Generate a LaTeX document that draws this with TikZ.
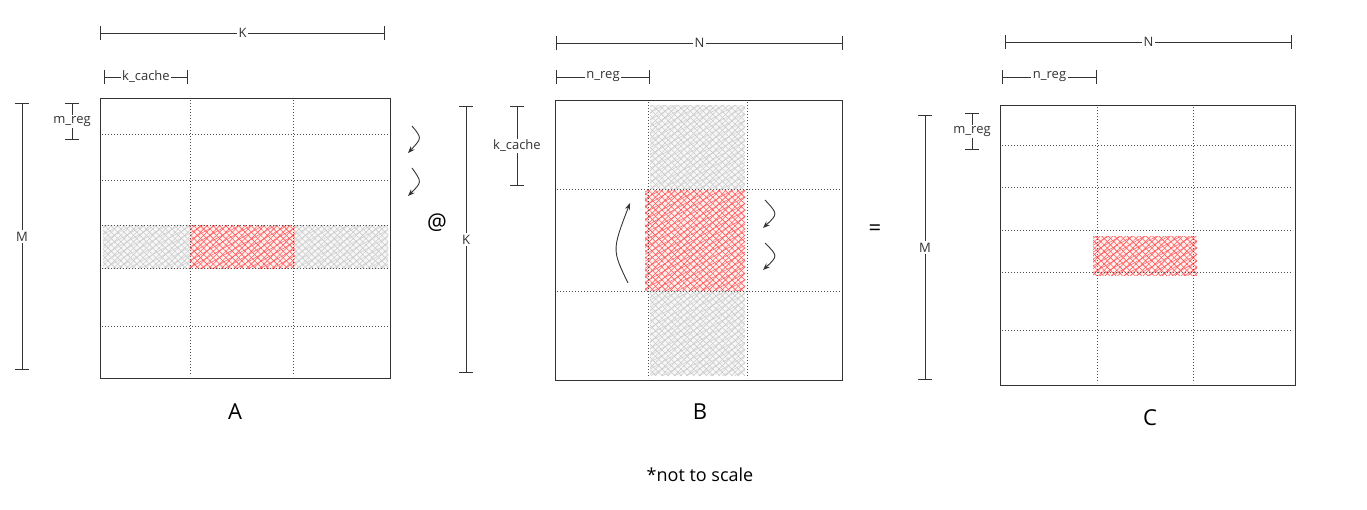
\documentclass[tikz,border=0pt]{standalone}
\usepackage{fontspec}
\setmainfont{Open Sans}
\usetikzlibrary{patterns.meta,arrows.meta}
\begin{document}
\begin{tikzpicture}[x=1pt,y=-1pt,
  frame/.style={draw=black!80,line width=1pt},
  grid/.style={black!70,dotted,line width=1pt},
  dim/.style={black!80,line width=0.9pt,{Bar[width=14pt]}-{Bar[width=14pt]}},
  lbl/.style={font=\fontsize{13}{15}\selectfont,inner sep=1.5pt},
  big/.style={font=\fontsize{22}{26}\selectfont},
  rot/.style={-{Stealth[length=7pt]},black!80,line width=0.9pt}]
\newcommand\hatch[3]{%
  \fill[#2] #3;
  \fill[pattern={Lines[angle=45,distance=4.5pt,line width=0.6pt]},pattern color=#1] #3;
  \fill[pattern={Lines[angle=-45,distance=4.5pt,line width=0.6pt]},pattern color=#1] #3;
  \fill[pattern={Lines[angle=30,distance=6pt,line width=0.5pt]},pattern color=#1] #3;}
\colorlet{hg}{gray!40}\colorlet{hgf}{gray!6}
\colorlet{hr}{red!65}\colorlet{hrf}{red!6}
\useasboundingbox (0,0) rectangle (1367,509);
% ---- A
\hatch{hg}{hgf}{(103,225) rectangle (190,268)}
\hatch{hr}{hrf}{(190,225) rectangle (295,268)}
\hatch{hg}{hgf}{(295,225) rectangle (388,268)}
\foreach \y in {134,180,225,268,326} \draw[grid] (102,\y) -- (388,\y);
\foreach \x in {190,293} \draw[grid] (\x,100) -- (\x,376);
\node[frame,minimum width=290,minimum height=280,anchor=north west,inner sep=0] (A) at (100,98) {};
\node[big] (lA) at (235,412) {A};
\draw[dim] (100,33) -- node[lbl,fill=white] (kA) {K} (385,33);
\draw[dim] (104,77) -- node[lbl,fill=white] (kcA) {k\_cache} (188,77);
\draw[dim] (22,103) -- node[lbl,fill=white] (mA) {M} (22,370);
\draw[dim] (72,103) -- node[lbl,fill=white] (mrA) {m\_reg} (72,140);
\coordinate (a1) at (412,126); \coordinate (a2) at (408,153);
\draw[rot] (a1) .. controls (422,138) .. (a2);
\coordinate (a3) at (412,168); \coordinate (a4) at (408,196);
\draw[rot] (a3) .. controls (422,182) .. (a4);
\node[big] (at) at (437,223) {@};
% ---- B
\hatch{hg}{hgf}{(650,105) rectangle (745,189)}
\hatch{hr}{hrf}{(645,190) rectangle (745,291)}
\hatch{hg}{hgf}{(650,291) rectangle (745,375)}
\foreach \y in {189,291} \draw[grid] (557,\y) -- (840,\y);
\foreach \x in {648,747} \draw[grid] (\x,102) -- (\x,378);
\node[frame,minimum width=287,minimum height=280,anchor=north west,inner sep=0] (B) at (555,100) {};
\node[big] (lB) at (700,412) {B};
\draw[dim] (556,43) -- node[lbl,fill=white] (nB) {N} (843,43);
\draw[dim] (556,77) -- node[lbl,fill=white] (nrB) {n\_reg} (650,77);
\draw[dim] (466,106) -- node[lbl,fill=white] (kB) {K} (466,373);
\draw[dim] (517,106) -- node[lbl,fill=white] (kcB) {k\_cache} (517,186);
\coordinate (b1) at (628,283); \coordinate (b2) at (630,203);
\draw[rot] (b1) .. controls (612,250) .. (b2);
\coordinate (b3) at (765,200); \coordinate (b4) at (763,228);
\draw[rot] (b3) .. controls (778,214) .. (b4);
\coordinate (b5) at (765,243); \coordinate (b6) at (763,270);
\draw[rot] (b5) .. controls (778,256) .. (b6);
\node[big] (eq) at (875,230) {=};
% ---- C
\hatch{hr}{hrf}{(1093,236) rectangle (1197,275)}
\foreach \y in {145,187,230,272,330} \draw[grid] (1002,\y) -- (1293,\y);
\foreach \x in {1097,1193} \draw[grid] (\x,107) -- (\x,383);
\node[frame,minimum width=295,minimum height=280,anchor=north west,inner sep=0] (C) at (1000,105) {};
\node[big] (lC) at (1150,418) {C};
\draw[dim] (1005,42) -- node[lbl,fill=white] (nC) {N} (1292,42);
\draw[dim] (1002,77) -- node[lbl,fill=white] (nrC) {n\_reg} (1097,77);
\draw[dim] (925,115) -- node[lbl,fill=white] (mC) {M} (925,380);
\draw[dim] (972,113) -- node[lbl,fill=white] (mrC) {m\_reg} (972,150);
\node[font=\fontsize{18}{22}\selectfont] (note) at (700,475) {*not to scale};
\end{tikzpicture}
\end{document}
